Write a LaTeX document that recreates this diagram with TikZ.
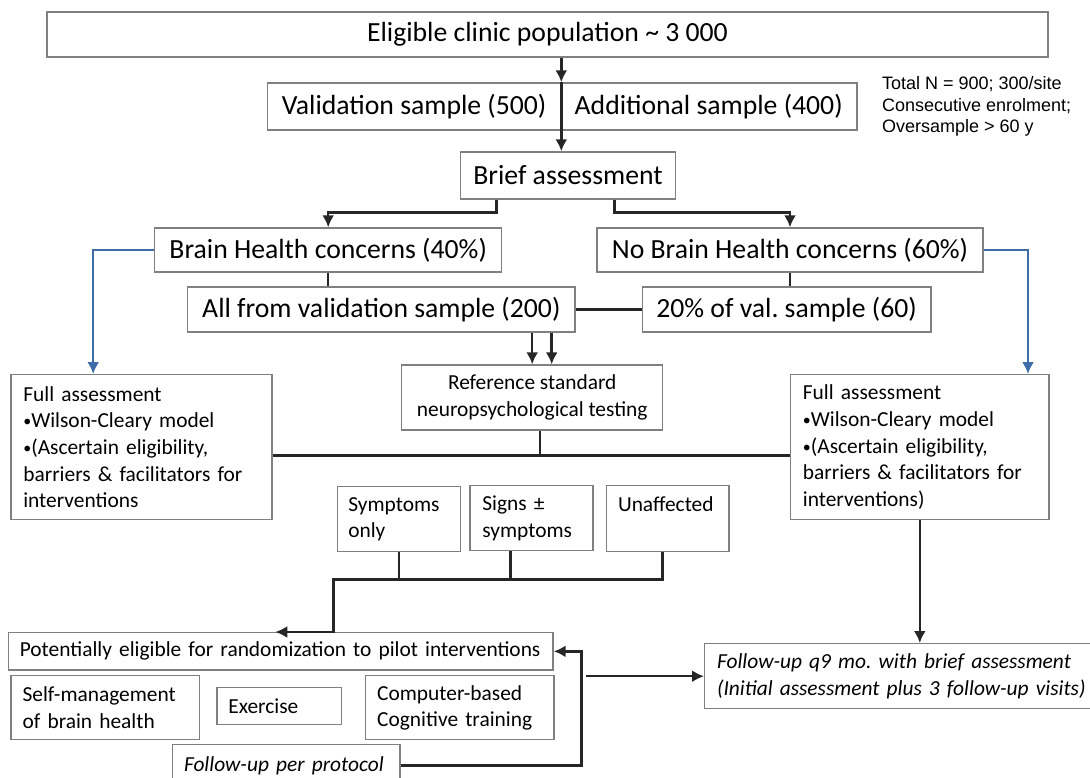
\documentclass[tikz,border=0pt]{standalone}
\usepackage{fontspec}
\setmainfont{Carlito}
\newfontfamily\notefont{Liberation Sans}
\usetikzlibrary{arrows.meta,calc}
\definecolor{healthblue}{RGB}{62,108,166}
\newcommand{\pointmark}{{\fontsize{8}{8}\selectfont\raisebox{0.15ex}{\textbullet}}}
\frenchspacing

\begin{document}
\begin{tikzpicture}[x=0.5pt, y=-0.5pt, >={Latex[length=6pt,width=6pt]},
	box/.style={draw=black!50, line width=0.7pt, inner sep=0pt, font=\fontsize{13.85}{16}\selectfont},
	sbox/.style={box, font=\fontsize{10.7}{13.3}\selectfont},
	lbox/.style={sbox, anchor=north west, align=left},
	conn/.style={line width=1.25pt, black!85},
	bconn/.style={line width=1.1pt, healthblue}]
	\useasboundingbox (0,0) rectangle (1090,777);
	\clip (0,0) rectangle (1090,777);
	% recruitment
	\node[box, minimum width=500.5pt, minimum height=22.5pt] (top) at (547.5,34.5) {Eligible clinic population \textasciitilde{} 3 000};
	\node[box, minimum width=146.5pt, minimum height=23.5pt] (val) at (414.1,106.5) {Validation sample (500)};
	\node[box, minimum width=148.1pt, minimum height=23.5pt] (add) at (708.7,106.5) {Additional sample (400)};
	\node[anchor=west, inner sep=0pt, align=left, font=\notefont\fontsize{9}{10.75}\selectfont] (note) at (881.7,106.8) {Total N = 900; 300/site\\Consecutive enrolment;\\Oversample > 60 y};
	\node[box, minimum width=107.35pt, minimum height=23.5pt] (brief) at (568,175.5) {Brief assessment};
	% screening result
	\node[box, minimum width=173.45pt, minimum height=22pt] (brain) at (328.2,250) {Brain Health concerns (40\%)};
	\node[box, minimum width=193pt, minimum height=22pt] (nobrain) at (790,250) {No Brain Health concerns (60\%)};
	\node[box, minimum width=193.65pt, minimum height=22.5pt] (allval) at (381.35,309.5) {All from validation sample (200)};
	\node[box, minimum width=144.25pt, minimum height=22.5pt] (twenty) at (786.55,309.5) {20\% of val. sample (60)};
	\node[sbox, align=center, minimum width=130.5pt, minimum height=32.5pt] (refstd) at (532.2,397.5) {Reference standard\\neuropsychological testing};
	\node[lbox, inner xsep=6.1pt, text width=118.15pt, minimum height=72.5pt] (fullL) at (10.4,374) {Full assessment\\\pointmark Wilson-Cleary model\\\pointmark(Ascertain eligibility,\\barriers \& facilitators for\\interventions};
	\node[lbox, inner xsep=6.1pt, text width=116.9pt, minimum height=72.5pt] (fullR) at (790,374) {Full assessment\\\pointmark Wilson-Cleary model\\\pointmark(Ascertain eligibility,\\barriers \& facilitators for\\interventions)};
	% test outcome
	\node[lbox, inner xsep=5.55pt, text width=50.65pt, minimum height=32.5pt] (sympt) at (336.5,486) {Symptoms\\only};
	\node[lbox, inner xsep=6.2pt, text width=49.1pt, minimum height=32.5pt] (signs) at (469.3,485) {Signs \textpm\\symptoms};
	\node[lbox, inner xsep=5.65pt, text width=49.8pt, minimum height=33pt] (unaff) at (606,485) {Unaffected\\\phantom{y}};
	% interventions
	\node[sbox, anchor=west, align=left, inner xsep=5.75pt, text width=260.85pt, minimum height=18.65pt] (potent) at (7.6,651.35) {Potentially eligible for randomization to pilot interventions};
	\node[lbox, inner xsep=5.75pt, text width=82.7pt, minimum height=32pt] (selfm) at (10.4,675) {Self-management\\of brain health};
	\node[lbox, inner xsep=5.75pt, text width=50.7pt, minimum height=18.65pt] (exer) at (216.2,686.7) {Exercise};
	\node[lbox, inner xsep=5.75pt, text width=82.65pt, minimum height=32pt] (comp) at (365,675) {Computer-based\\Cognitive training};
	\node[lbox, inner xsep=5.8pt, text width=102.2pt, minimum height=21pt, font=\fontsize{10.7}{13.3}\selectfont\itshape] (fupp) at (171.7,744) {Follow-up per protocol};
	\node[lbox, inner xsep=6.2pt, text width=187.6pt, minimum height=32.5pt, font=\fontsize{10.7}{13.3}\selectfont\itshape] (fuq9) at (704,643) {Follow-up q9 mo. with brief assessment\\(Initial assessment plus 3 follow-up visits)};
	% connectors
	\draw[conn,->] (top.south -| val.east) -- (val.north east);
	\draw[conn,->] (val.north east) -- (brief.north -| val.east);
	\draw[conn,->] ($(brief.south)+(-71.6,0)$) -- ++(0,13) -| (brain.north);
	\draw[conn,->] ($(brief.south)+(46.5,0)$) -- ++(0,13) -| (nobrain.north);
	\draw[bconn,->] (brain.west) -| ($(fullL.north west)+(82.8,0)$);
	\draw[bconn,->] (nobrain.east) -| ($(fullR.north east)+(-21.6,0)$);
	\draw[conn] (brain.south) -- (brain.south |- allval.north);
	\draw[conn] (nobrain.south) -- (nobrain.south |- twenty.north);
	\draw[conn] (allval.east) -- (twenty.west);
	\draw[conn,->] (allval.south -| refstd.north) -- (refstd.north);
	\draw[conn,->] ($(allval.south -| refstd.north)+(19.5,0)$) -- ($(refstd.north)+(19.5,0)$);
	\coordinate (jn) at ($(refstd.south)+(8,25)$);
	\draw[conn] ($(refstd.south)+(8,0)$) -- (jn);
	\draw[conn] (fullL.east |- jn) -- (fullR.west |- jn);
	\coordinate (merge) at (333.7,579.5);
	\draw[conn] (sympt.south) -- (sympt.south |- merge);
	\draw[conn] ($(signs.south)+(-20.8,0)$) -- ($(signs.south |- merge)+(-20.8,0)$);
	\draw[conn,->] ($(unaff.south)+(-5.3,0)$) |- (merge) |- ($(potent.north)+(-5.4,0)$);
	\coordinate (back) at ($(potent.east)+(27.7,0)$);
	\draw[conn,->] (fupp.east) -| (back) -- (potent.east);
	\draw[conn,->] ($(back |- fuq9.west)+(5,0)$) -- (fuq9.west);
	\draw[conn,->] (fullR.south) -- (fullR.south |- fuq9.north);
\end{tikzpicture}
\end{document}
